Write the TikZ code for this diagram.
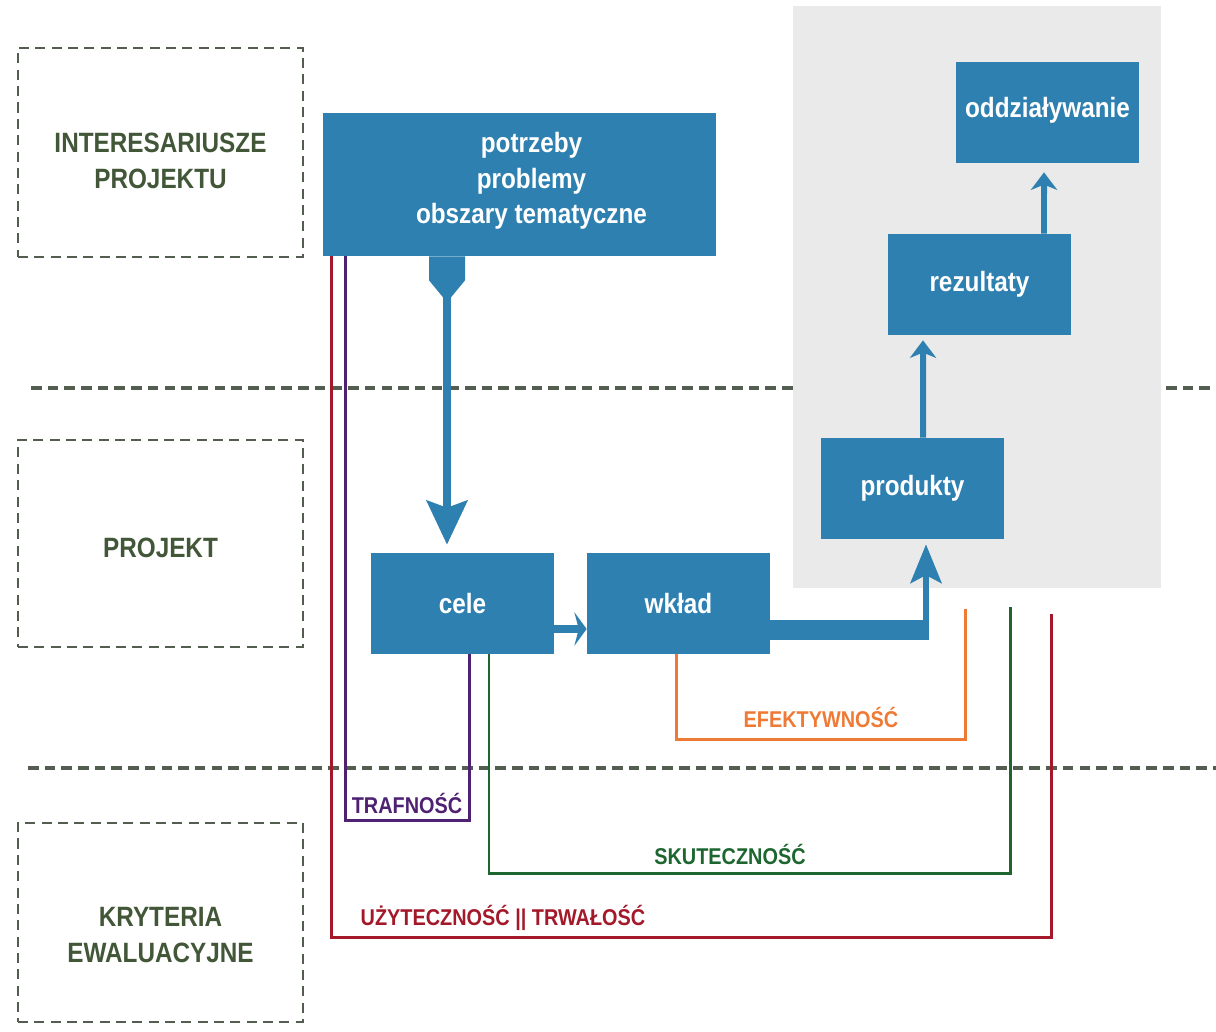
\documentclass[tikz,border=0pt]{standalone}
\usepackage{fontspec}
\setmainfont[FakeStretch=0.87]{Liberation Sans}
\usepackage{tikz}
\usetikzlibrary{arrows.meta}
\definecolor{boxblue}{RGB}{46,128,176}
\definecolor{tlo}{RGB}{234,234,234}
\definecolor{oliwka}{RGB}{66,86,56}
\definecolor{kreska}{RGB}{84,94,80}
\definecolor{fiolet}{RGB}{78,33,114}
\definecolor{zielen}{RGB}{29,102,48}
\definecolor{pomar}{RGB}{238,122,53}
\definecolor{czerw}{RGB}{163,25,42}

\begin{document}
\begin{tikzpicture}[x=0.02cm,y=-0.02cm]
  \tikzstyle{blok}=[fill=boxblue,text=white,font=\fontsize{15.9}{20}\selectfont\bfseries,minimum width=3.66cm,minimum height=2.02cm,inner sep=0pt,align=center]
  \tikzstyle{ramka}=[draw=kreska,line width=1.4pt,dash pattern=on 5.7pt off 3.6pt,minimum width=5.7cm,inner sep=0pt]
  \tikzstyle{ramkatekst}=[text=oliwka,font=\fontsize{15.9}{20.4}\selectfont\bfseries,align=center,inner sep=0pt]
  \tikzstyle{poziom}=[draw=kreska,line width=1.8pt,dash pattern=on 6pt off 3.5pt]
  \tikzstyle{kryt}=[line width=1.7pt]
  \tikzstyle{etykieta}=[font=\fontsize{13}{15}\selectfont\bfseries,inner sep=0pt,anchor=base]
  \tikzstyle{strz}=[draw=boxblue,line width=4.5pt]
\useasboundingbox (0,0) rectangle (1216,1031);
% linie poziome
\draw[poziom] (31,388) -- (1216,388);
\draw[poziom] (28,768) -- (1216,768);
% tlo
\fill[tlo] (793,6) rectangle (1161,588);
% ramki
\node[ramka,minimum height=4.18cm] (r1) at (160.5,152.5) {};
\node[ramka,minimum height=4.14cm] (r2) at (160.5,543.5) {};
\node[ramka,minimum height=3.98cm] (r3) at (160.5,922.5) {};
\node[ramkatekst] (t1) at (160.5,161) {INTERESARIUSZE\\PROJEKTU};
\node[ramkatekst] (t2) at (160.5,548) {PROJEKT};
\node[ramkatekst] (t3) at (160.5,935) {KRYTERIA\\EWALUACYJNE};
% bloki
\node[blok,minimum width=7.86cm,minimum height=2.86cm] (potrzeby) at (519.5,184.5)
  {\hspace*{0.48cm}\raisebox{0.07cm}[\height][\depth]{\begin{tabular}{@{}c@{}}potrzeby\\problemy\\obszary tematyczne\end{tabular}}};
\node[blok] (oddz) at (1047.5,112.5) {\raisebox{0.04cm}[\height][\depth]{oddziaływanie}};
\node[blok] (rezultaty) at (979.5,284.5) {rezultaty};
\node[blok] (produkty) at (912.5,488.5) {produkty};
\node[blok] (cele) at (462.5,603.5) {cele};
\node[blok] (wklad) at (678.5,603.5) {wkład};
% strzalki
\fill[boxblue] ([xshift=-1.81cm]potrzeby.south) -- ++(0,24) -- ++(14,17) -- ++(8,0) -- ++(14,-17) -- ++(0,-24) -- cycle;
\draw[strz,-{Stealth[length=25pt,width=23pt,inset=4pt]}] ([xshift=-1.45cm,yshift=-0.78cm]potrzeby.south) -- ([xshift=-0.31cm,yshift=0.16cm]cele.north);
\draw[strz,-{Stealth[length=7pt,width=19pt,inset=2.5pt]}] ([yshift=-0.51cm]cele.east) -- ([yshift=-0.51cm]wklad.west);
\fill[boxblue] ([yshift=0.28cm]wklad.south east) rectangle ([xshift=0.33cm,yshift=-1.62cm]produkty.south);
\draw[strz,line width=3.7pt,-{Stealth[length=22pt,width=17.6pt,inset=4.5pt]}] ([xshift=0.27cm,yshift=-1.82cm]produkty.south) -- ([xshift=0.27cm,yshift=-0.1cm]produkty.south);
\draw[strz,line width=3.4pt,-{Stealth[length=10pt,width=15pt,inset=3pt]}] ([xshift=0.21cm]produkty.north) -- ([xshift=-1.13cm,yshift=-0.1cm]rezultaty.south);
\draw[strz,line width=3.4pt,-{Stealth[length=10pt,width=15pt,inset=3pt]}] ([xshift=1.29cm]rezultaty.north) -- ([xshift=-0.07cm,yshift=-0.18cm]oddz.south);
% kryteria
\coordinate (uzEnd) at (1051,614);
\coordinate (skEnd) at (1010,607);
\coordinate (efEnd) at (965,609);
\draw[kryt,draw=czerw] ([xshift=0.18cm]potrzeby.south west) -- ++(0,681) -| (uzEnd);
\draw[kryt,draw=fiolet] ([xshift=0.46cm]potrzeby.south west) -- ++(0,564) -| ([xshift=0.13cm]cele.south);
\draw[kryt,draw=zielen] ([xshift=0.53cm]cele.south) -- ++(0,219) -| (skEnd);
\draw[kryt,draw=pomar] ([xshift=-0.05cm]wklad.south) -- ++(0,85) -| (efEnd);
\node[etykieta,text=fiolet] (trafnosc) at (407,813) {TRAFNOŚĆ};
\node[etykieta,text=zielen] (skutecznosc) at (730,864) {SKUTECZNOŚĆ};
\node[etykieta,text=pomar] (efektywnosc) at (821,727) {EFEKTYWNOŚĆ};
\node[etykieta,text=czerw] (uzytecznosc) at (503,925) {UŻYTECZNOŚĆ || TRWAŁOŚĆ};
\end{tikzpicture}
\end{document}
